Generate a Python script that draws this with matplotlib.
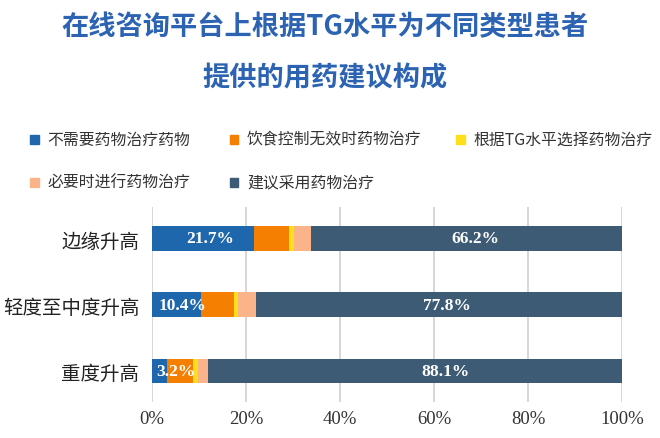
import numpy as np
import matplotlib
matplotlib.use("Agg")
import matplotlib.pyplot as plt
from matplotlib.patches import Rectangle

plt.rcParams['font.family'] = ['Noto Sans CJK SC', 'DejaVu Sans']

# data (percent)
groups = ['边缘升高', '轻度至中度升高', '重度升高']
series = ['不需要药物治疗药物', '饮食控制无效时药物治疗', '根据TG水平选择药物治疗',
          '必要时进行药物治疗', '建议采用药物治疗']
no_drug = [21.7, 10.4, 3.2]
diet_fail = [7.5, 7.0, 5.6]
by_tg = [1.0, 1.0, 0.9]
if_needed = [3.6, 3.8, 2.2]
drug = [66.2, 77.8, 88.1]
xticks = [0, 20, 40, 60, 80, 100]

colors = ['#1F67AC', '#F47F00', '#FFDE1A', '#FBB48A', '#3D5B74']
values = [no_drug, diet_fail, by_tg, if_needed, drug]

fig = plt.figure(figsize=(6.6, 4.39), dpi=100)
ax = fig.add_axes([0.2303, 0.082, 0.7121, 0.4442])

y = np.arange(len(groups))
left = np.zeros(len(groups))
for vals, c, name in zip(values, colors, series):
    ax.barh(y, vals, left=left, height=0.377, color=c, label=name, zorder=3)
    left += np.array(vals)

# value labels (blue and dark segments), nudged like the source
blue_dx = [1.5, 1.2, 3.5]
dark_dx = [2.0, 1.7, 6.4]
for i in range(len(groups)):
    ax.text(no_drug[i] / 2 + blue_dx[i], y[i], f'{no_drug[i]:.1f}%', ha='center', va='center',
            color='white', fontsize=12.5, fontweight='bold', family='Liberation Serif', zorder=4)
    start = 100 - drug[i]
    ax.text(start + drug[i] / 2 + dark_dx[i], y[i], f'{drug[i]:.1f}%', ha='center', va='center',
            color='white', fontsize=12.5, fontweight='bold', family='Liberation Serif', zorder=4)

ax.set_xlim(0, 100)
ax.set_ylim(2.468, -0.475)
ax.set_xticks(xticks)
ax.set_xticklabels([f'{t}%' for t in xticks], family='Liberation Serif', fontsize=13.5, color='#333333')
ax.set_yticks(y)
ax.set_yticklabels(groups, fontsize=14, color='#222222')
ax.tick_params(axis='both', length=0)
ax.tick_params(axis='x', pad=6)
ax.tick_params(axis='y', pad=9)
ax.grid(axis='x', color='#D0D0D0', linewidth=1.2, zorder=0)
for s in ax.spines.values():
    s.set_visible(False)

# title
fig.text(0.492, 0.9385, '在线咨询平台上根据TG水平为不同类型患者', ha='center', va='center',
         fontsize=19.6, fontweight='bold', color='#2C63B3')
fig.text(0.492, 0.822, '提供的用药建议构成', ha='center', va='center',
         fontsize=19.6, fontweight='bold', color='#2C63B3')

# legend, two rows
leg_pos = [(34, 140), (234, 140), (460, 140), (34, 183), (234, 183)]
W, H = 660.0, 439.0
for (px, py), c, name in zip(leg_pos, colors, series):
    fig.add_artist(Rectangle(((px - 4.5) / W, 1 - (py + 4.5) / H), 9 / W, 9 / H,
                             transform=fig.transFigure, color=c))
    fig.text((px + 13) / W, 1 - py / H, name, ha='left', va='center',
             fontsize=11.4, color='#333333')

fig.savefig('out.png', dpi=100)
